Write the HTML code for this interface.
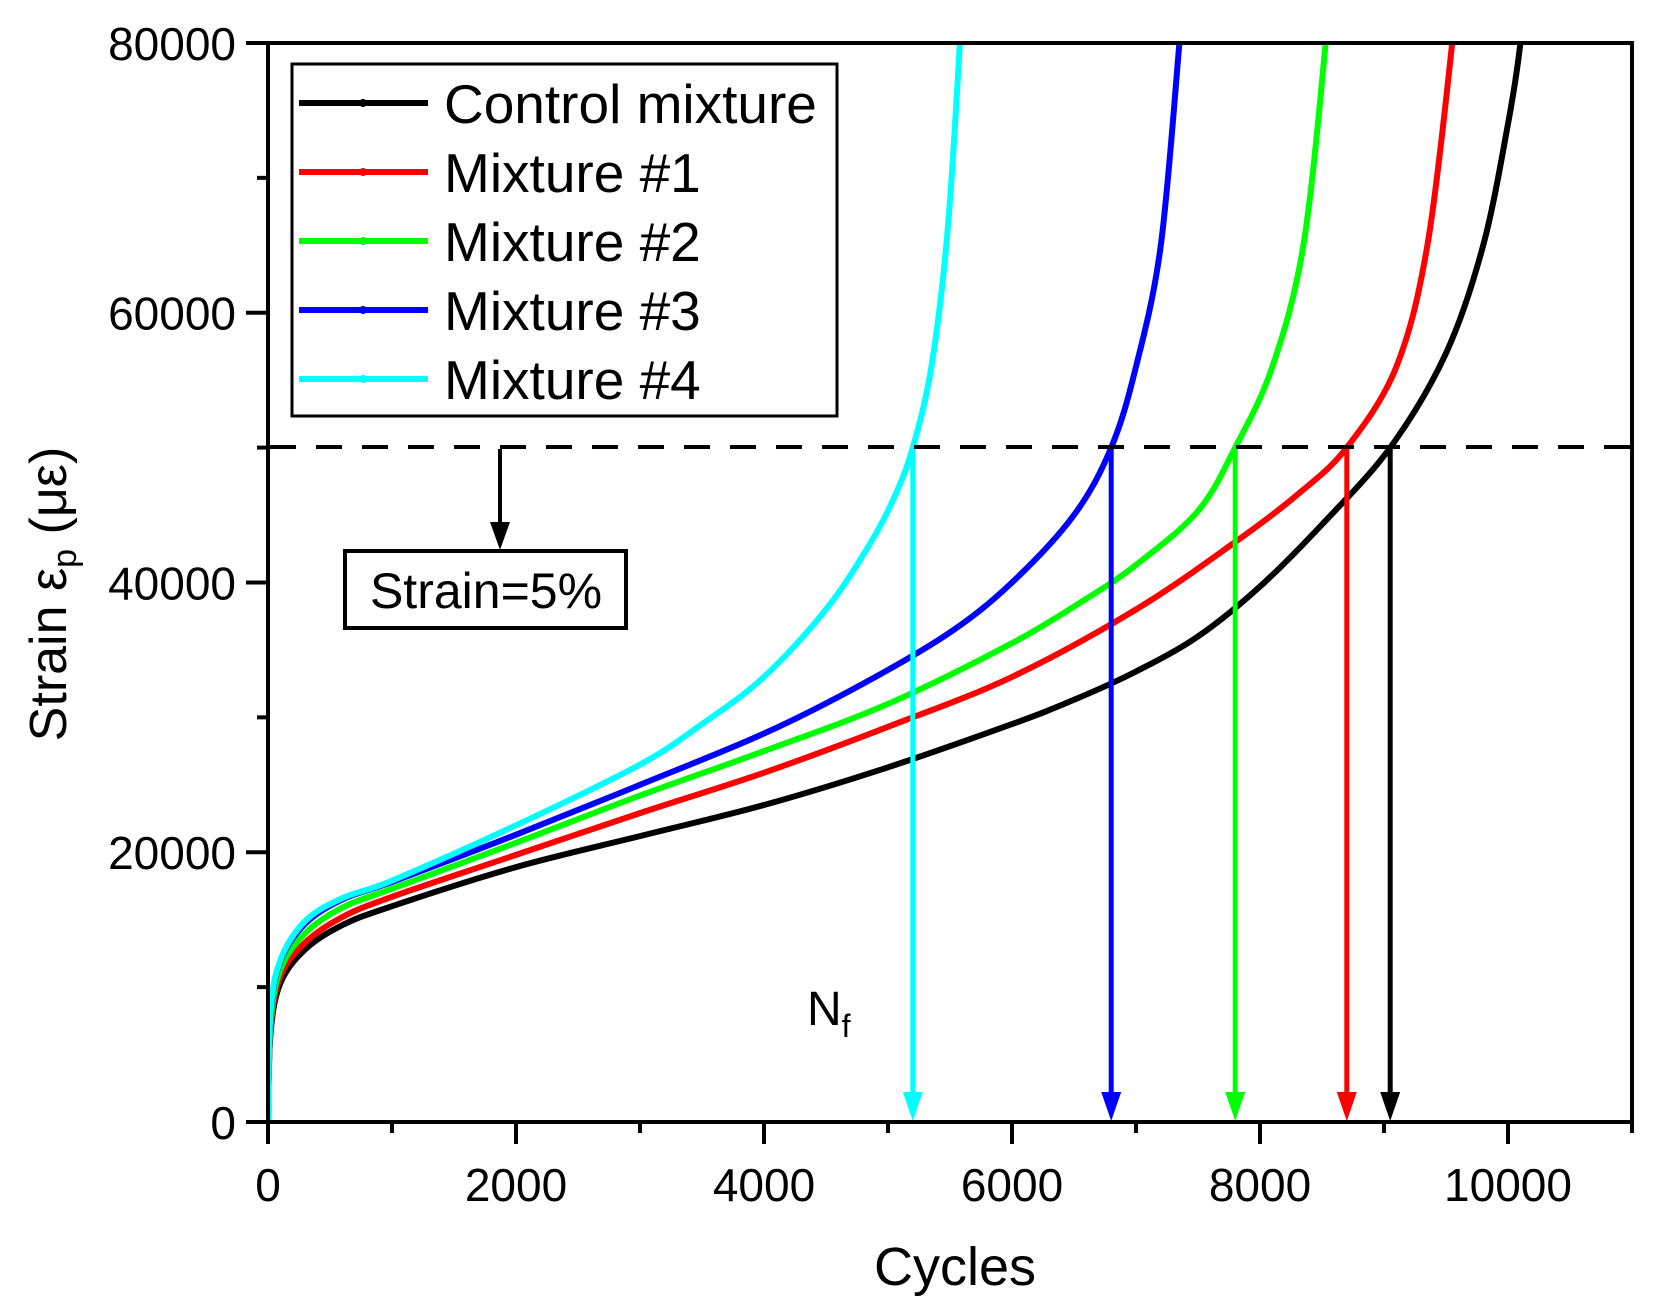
<!DOCTYPE html>
<html><head><meta charset="utf-8"><style>
html,body{margin:0;padding:0;background:#fff;}
svg{display:block;font-family:"Liberation Sans",Arial,sans-serif;}
</style></head><body>
<svg id="s" width="1669" height="1311" viewBox="0 0 1669 1311" xmlns="http://www.w3.org/2000/svg">
<defs><clipPath id="c"><rect x="268" y="43" width="1364" height="1079"/></clipPath></defs>
<g id="curves" clip-path="url(#c)" fill="none" stroke-width="6" stroke-linejoin="round" stroke-linecap="round"></g>
<line x1="270" y1="447" x2="1632" y2="447" stroke="#000" stroke-width="4" stroke-dasharray="26,20"/>
<g id="arrows"></g>
<line x1="500" y1="449" x2="500" y2="525" stroke="#000" stroke-width="4"/>
<polygon points="490,522 510,522 500,550" fill="#000"/>
<rect x="345" y="551" width="281" height="77" fill="#fff" stroke="#000" stroke-width="4"/>
<text x="486" y="608" font-size="50" text-anchor="middle">Strain=5%</text>
<text x="807" y="1025" font-size="48">N<tspan font-size="32" dy="12">f</tspan></text>
<rect x="268" y="43" width="1364" height="1079" fill="none" stroke="#000" stroke-width="4"/>
<g stroke="#000" stroke-width="4" id="ticks"></g>
<g font-size="46" id="labels"></g>
<text x="955" y="1285" font-size="54" text-anchor="middle">Cycles</text>
<text transform="translate(66,594) rotate(-90)" font-size="52" text-anchor="middle">Strain ε<tspan font-size="34" dy="10">p</tspan><tspan dy="-10"> (με)</tspan></text>
<rect x="292" y="64" width="545" height="352" fill="#fff" stroke="#000" stroke-width="3"/>
<g id="legend" font-size="55"></g>
</svg>
<script>
var X=function(v){return 268+v*0.124;}, Y=function(v){return 1122-v*0.013488;};
var ser=[
["#000",[[0,0],[20,6500],[100,10300],[300,12800],[600,14600],[1000,16000],[2000,18900],[3000,21200],[4000,23500],[5000,26300],[6000,29500],[6500,31300],[7000,33400],[7500,36000],[8000,39700],[8500,44300],[9050,50000],[9500,57000],[9800,65000],[10000,74000],[10100,80000],[10150,86000]],9050],
["#f00",[[0,0],[20,6800],[100,10800],[300,13300],[600,15200],[1000,16700],[2000,19800],[3000,22900],[4000,25900],[5000,29300],[6000,33000],[7000,38000],[7800,43000],[8300,46500],[8700,50000],[9100,56000],[9350,65000],[9550,80000],[9600,86000]],8700],
["#0f0",[[0,0],[20,7200],[100,11300],[300,14000],[600,15900],[1000,17300],[2000,20700],[3000,24200],[4000,27500],[5000,31000],[6000,35500],[6600,38800],[7000,41300],[7500,45300],[7800,50000],[8100,56000],[8350,65000],[8530,80000],[8580,86000]],7800],
["#00f",[[0,0],[20,7800],[100,11900],[300,14700],[600,16500],[1000,17800],[2000,21300],[3000,25000],[4000,28800],[4800,32500],[5500,36300],[6000,40000],[6500,45000],[6800,50000],[7000,56000],[7200,65000],[7350,80000],[7400,86000]],6800],
["#0ff",[[0,0],[20,8000],[100,12000],[300,14900],[600,16600],[1000,17900],[2000,22000],[3000,26500],[3500,29500],[4000,33000],[4500,38000],[4850,42800],[5050,46300],[5200,50000],[5350,56000],[5480,66000],[5580,80000],[5610,86000]],5200]
];
function path(p){p=p.map(function(a){return [X(a[0]),Y(a[1])];});
var d="M"+p[0][0].toFixed(1)+","+p[0][1].toFixed(1);
for(var i=0;i<p.length-1;i++){var p0=p[i-1]||p[i],p1=p[i],p2=p[i+1],p3=p[i+2]||p2;
var c1=[p1[0]+(p2[0]-p0[0])/6,p1[1]+(p2[1]-p0[1])/6],c2=[p2[0]-(p3[0]-p1[0])/6,p2[1]-(p3[1]-p1[1])/6];
d+="C"+c1[0].toFixed(1)+","+c1[1].toFixed(1)+" "+c2[0].toFixed(1)+","+c2[1].toFixed(1)+" "+p2[0].toFixed(1)+","+p2[1].toFixed(1);}
return d;}
var NS="http://www.w3.org/2000/svg";
function el(t,a,par,txt){var e=document.createElementNS(NS,t);for(var k in a)e.setAttribute(k,a[k]);if(txt)e.textContent=txt;document.getElementById(par).appendChild(e);return e;}
ser.forEach(function(s){el("path",{d:path(s[1]),stroke:s[0]},"curves");});
ser.forEach(function(s){var x=X(s[2]);el("line",{x1:x,y1:449,x2:x,y2:1095,stroke:s[0],"stroke-width":5},"arrows");
el("polygon",{points:(x-10)+",1092 "+(x+10)+",1092 "+x+",1121",fill:s[0]},"arrows");});
for(var v=0;v<=11000;v+=1000){var x=X(v),big=v%2000==0;el("line",{x1:x,y1:1122,x2:x,y2:big?1144:1133},"ticks");
if(big)el("text",{x:x,y:1201,"text-anchor":"middle"},"labels",String(v));}
for(var v=0;v<=80000;v+=10000){var y=Y(v),big=v%20000==0;el("line",{x1:268,y1:y,x2:big?246:257,y2:y},"ticks");
if(big)el("text",{x:236,y:y+17,"text-anchor":"end"},"labels",String(v));}
var names=["Control mixture","Mixture #1","Mixture #2","Mixture #3","Mixture #4"];
ser.forEach(function(s,i){var y=103+i*69;el("line",{x1:299,y1:y,x2:428,y2:y,stroke:s[0],"stroke-width":6},"legend");
el("circle",{cx:363,cy:y,r:4,fill:s[0]},"legend");el("text",{x:444,y:y+20},"legend",names[i]);});
</script>
</body></html>
